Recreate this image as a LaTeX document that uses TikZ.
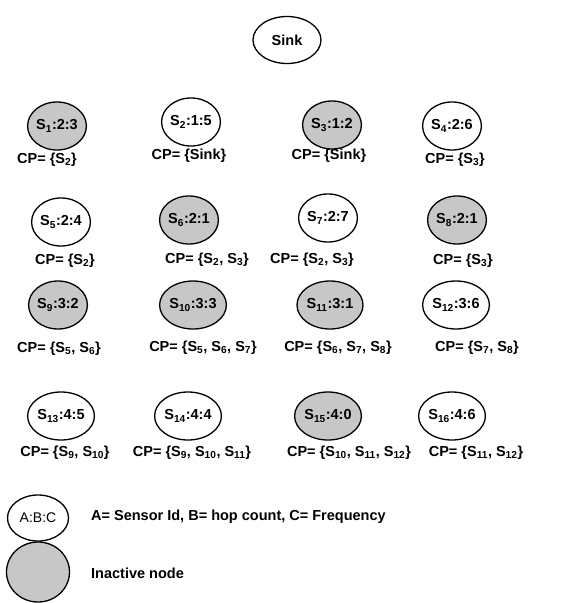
\documentclass[tikz,border=0pt]{standalone}
\usepackage{fontspec}
\setmainfont{Liberation Sans}
\usetikzlibrary{shapes.geometric}
\newcommand{\Sx}[1]{S\textsubscript{#1}}
\begin{document}
\begin{tikzpicture}[x=1bp,y=-1bp,
  every node/.style={font=\fontsize{14.5bp}{16bp}\selectfont\bfseries},
  sensor/.style={ellipse,draw=black,line width=1.3bp,fill=white,minimum width=58bp,minimum height=48bp,inner sep=0pt},
  inactive/.style={sensor,fill=black!22},
  cp/.style={inner sep=0pt}]
\useasboundingbox (0,0) rectangle (577,603);
% sink
\node[sensor,minimum width=68bp,minimum height=47bp] (sink) at (287,40) {Sink};
% row 1
\node[inactive] (s1) at (57,126) {\Sx{1}:2:3};
\node[sensor]   (s2) at (191,122) {\Sx{2}:1:5};
\node[inactive] (s3) at (332,125) {\Sx{3}:1:2};
\node[sensor]   (s4) at (452,126) {\Sx{4}:2:6};
\node[cp] (c1) at (47,160) {CP= \{\Sx{2}\}};
\node[cp] (c2) at (189,156) {CP= \{Sink\}};
\node[cp] (c3) at (329,156) {CP= \{Sink\}};
\node[cp] (c4) at (455,160) {CP= \{\Sx{3}\}};
% row 2
\node[sensor]   (s5) at (61,222) {\Sx{5}:2:4};
\node[inactive] (s6) at (189,220) {\Sx{6}:2:1};
\node[sensor]   (s7) at (328,218) {\Sx{7}:2:7};
\node[inactive] (s8) at (457,220) {\Sx{8}:2:1};
\node[cp] (c5) at (65,261) {CP= \{\Sx{2}\}};
\node[cp] (c6) at (207,260) {CP= \{\Sx{2}, \Sx{3}\}};
\node[cp] (c7) at (312,260) {CP= \{\Sx{2}, \Sx{3}\}};
\node[cp] (c8) at (463,261) {CP= \{\Sx{3}\}};
% row 3
\node[inactive] (s9)  at (58,305) {\Sx{9}:3:2};
\node[inactive] (s10) at (193,305) {\Sx{10}:3:3};
\node[inactive] (s11) at (330,305) {\Sx{11}:3:1};
\node[sensor]   (s12) at (456,305) {\Sx{12}:3:6};
\node[cp] (c9)  at (59,349) {CP= \{\Sx{5}, \Sx{6}\}};
\node[cp] (c10) at (203,348) {CP= \{\Sx{5}, \Sx{6}, \Sx{7}\}};
\node[cp] (c11) at (338,348) {CP= \{\Sx{6}, \Sx{7}, \Sx{8}\}};
\node[cp] (c12) at (477,348) {CP= \{\Sx{7}, \Sx{8}\}};
% row 4
\node[sensor]   (s13) at (61,416) {\Sx{13}:4:5};
\node[sensor]   (s14) at (188,416) {\Sx{14}:4:4};
\node[inactive] (s15) at (328,416) {\Sx{15}:4:0};
\node[sensor]   (s16) at (452,416) {\Sx{16}:4:6};
\node[cp] (c13) at (65,453) {CP= \{\Sx{9}, \Sx{10}\}};
\node[cp] (c14) at (192,453) {CP= \{\Sx{9}, \Sx{10}, \Sx{11}\}};
\node[cp] (c15) at (349,453) {CP= \{\Sx{10}, \Sx{11}, \Sx{12}\}};
\node[cp] (c16) at (476,453) {CP= \{\Sx{11}, \Sx{12}\}};
% legend
\node[sensor,minimum width=61bp,minimum height=46bp,font=\fontsize{14bp}{16bp}\selectfont] (la) at (38,518) {A:B:C};
\node[cp,anchor=west] (lt) at (91,517) {A= Sensor Id, B= hop count, C= Frequency};
\node[inactive,minimum width=63bp,minimum height=60bp] (li) at (38,572) {};
\node[cp,anchor=west] (lit) at (91,573) {Inactive node};
\end{tikzpicture}
\end{document}
